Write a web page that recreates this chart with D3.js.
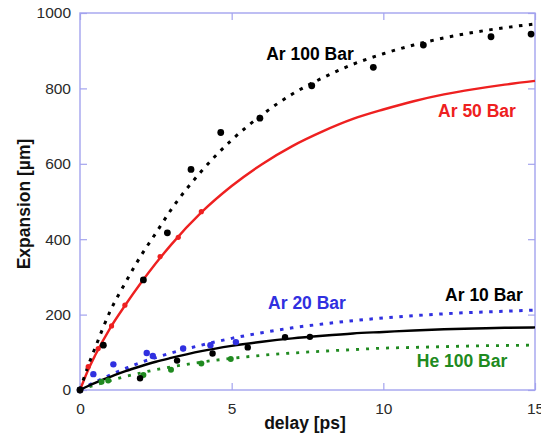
<!DOCTYPE html>
<html><head><meta charset="utf-8">
<script src="https://cdn.jsdelivr.net/npm/d3@7"></script>
<style>body{margin:0;background:#fff}svg{display:block}text{font-family:"Liberation Sans",Arial,sans-serif}</style>
</head><body><svg id="c" width="541" height="436"></svg>
<script>
// fit curves
const fitX   = [0,0.25,0.5,1,1.5,2,2.5,3,4,5,6,7,8,9,10,11,12,13,14,15];
const ar100Fit = [0,60,112,210,285,355,416,478,580,663,730,785,828,864,892,915,934,949,961,971];
const ar50Fit  = [0,50,92,165,226,283,336,385,471,541,599,647,686,719,744,766,784,798,810,820];
const ar20Fit  = [0,11,21,40,57,73,86,98,119,137,152,165,175,184,191,197,202,206,209,212];
const ar10Fit  = [0,10,19,35,50,63,75,85,103,117,128,137,144,150,154,158,161,163,165,166];
const he100Fit = [0,7,13,25,36,45,54,61,74,84,92,98,103,107,111,113,115,117,118,119];
// measured points
const ar100X = [0,0.77,2.09,2.88,3.66,4.64,5.93,7.64,9.67,11.32,13.55,14.87];
const ar100Y = [0,119,292,417,585,683,721,807,856,915,937,944];
const ar50X  = [0,0.27,0.6,1.04,1.48,2.64,3.24,4.0];
const ar50Y  = [0,62,110,170,225,354,405,473];
const ar20X  = [0,0.44,1.1,2.2,2.4,3.4,4.3,5.14];
const ar20Y  = [0,42,68,98,90,110,119,127];
const ar10X  = [0,1.98,3.2,4.37,5.53,6.76,7.58];
const ar10Y  = [0,31,78,97,113,140,141];
const he100X = [0,0.71,0.93,2.09,3.0,4.0,4.97];
const he100Y = [0,22,25,40,54,70,82];
const xTicks = [0,5,10,15];
const yTicks = [0,200,400,600,800,1000];
const labels = ["Ar 100 Bar","Ar 50 Bar","Ar 20 Bar","Ar 10 Bar","He 100 Bar"];

const svg = d3.select("#c");
const L=80,R=535,T=13,B=390;
const x = d3.scaleLinear().domain([0,15]).range([L,R]);
const y = d3.scaleLinear().domain([0,1000]).range([B,T]);
const frameC = "#a3a3ee";

// frame
svg.append("rect").attr("x",L).attr("y",T).attr("width",R-L).attr("height",B-T)
  .attr("fill","none").attr("stroke",frameC).attr("stroke-width",1.4);

// axes (ticks inward)
const fmt = d3.format("d");
const axL = d3.axisLeft(y).tickValues(yTicks).tickFormat(fmt).tickSizeInner(-7).tickSizeOuter(0).tickPadding(9);
const axB = d3.axisBottom(x).tickValues(xTicks).tickFormat(fmt).tickSizeInner(-7).tickSizeOuter(0).tickPadding(13);
const axR = d3.axisRight(y).tickValues(yTicks).tickSizeInner(-7).tickSizeOuter(0).tickFormat("");
const axT = d3.axisTop(x).tickValues(xTicks).tickSizeInner(-7).tickSizeOuter(0).tickFormat("");
function style(g){g.select(".domain").remove();g.selectAll("line").attr("stroke",frameC).attr("stroke-width",1.2);
  g.selectAll("text").attr("fill","#2a2a2a").attr("font-size",15.5).attr("font-family","'Liberation Sans',Arial,sans-serif");}
svg.append("g").attr("transform",`translate(${L},0)`).call(axL).call(style);
svg.append("g").attr("transform",`translate(0,${B})`).call(axB).call(style);
svg.append("g").attr("transform",`translate(${R},0)`).call(axR).call(style);
svg.append("g").attr("transform",`translate(0,${T})`).call(axT).call(style);

const line = d3.line().x(d=>x(d[0])).y(d=>y(d[1])).curve(d3.curveMonotoneX);
function curve(vals,color,w,dash){
  svg.append("path").datum(fitX.map((v,i)=>[v,vals[i]])).attr("d",line)
    .attr("fill","none").attr("stroke",color).attr("stroke-width",w)
    .attr("stroke-dasharray",dash||null);
}
function pts(xs,ys,color,r){
  svg.append("g").selectAll("circle").data(xs.map((v,i)=>[v,ys[i]])).join("circle")
    .attr("cx",d=>x(d[0])).attr("cy",d=>y(d[1])).attr("r",r).attr("fill",color);
}
const cBlack="#000", cRed="#ee2020", cBlue="#3030e0", cGreen="#208a20";
curve(he100Fit,cGreen,2.8,"3,7");
curve(ar20Fit,cBlue,3,"3.5,6.5");
curve(ar10Fit,cBlack,2.4);
curve(ar50Fit,cRed,2.4);
curve(ar100Fit,cBlack,3,"3.5,6.5");
pts(he100X,he100Y,cGreen,3);
pts(ar10X,ar10Y,cBlack,3.2);
pts(ar20X,ar20Y,cBlue,3.2);
pts(ar50X,ar50Y,cRed,2.6);
pts(ar100X,ar100Y,cBlack,3.4);

// series labels
const lab=[[labels[0],310,60,cBlack],[labels[1],477,117,cRed],[labels[2],307,309,cBlue],[labels[3],484,300.5,cBlack],[labels[4],462,367,cGreen]];
lab.forEach(l=>svg.append("text").text(l[0]).attr("x",l[1]).attr("y",l[2]).attr("text-anchor","middle")
  .attr("font-weight","bold").attr("font-size",17.5).attr("fill",l[3]));

// axis titles
svg.append("text").text("delay [ps]").attr("x",305).attr("y",429).attr("text-anchor","middle")
  .attr("font-weight","bold").attr("font-size",17.5).attr("fill","#111");
svg.append("text").text("Expansion [µm]").attr("transform","translate(30,204) rotate(-90)").attr("text-anchor","middle")
  .attr("font-weight","bold").attr("font-size",17.5).attr("fill","#111");
</script></body></html>
